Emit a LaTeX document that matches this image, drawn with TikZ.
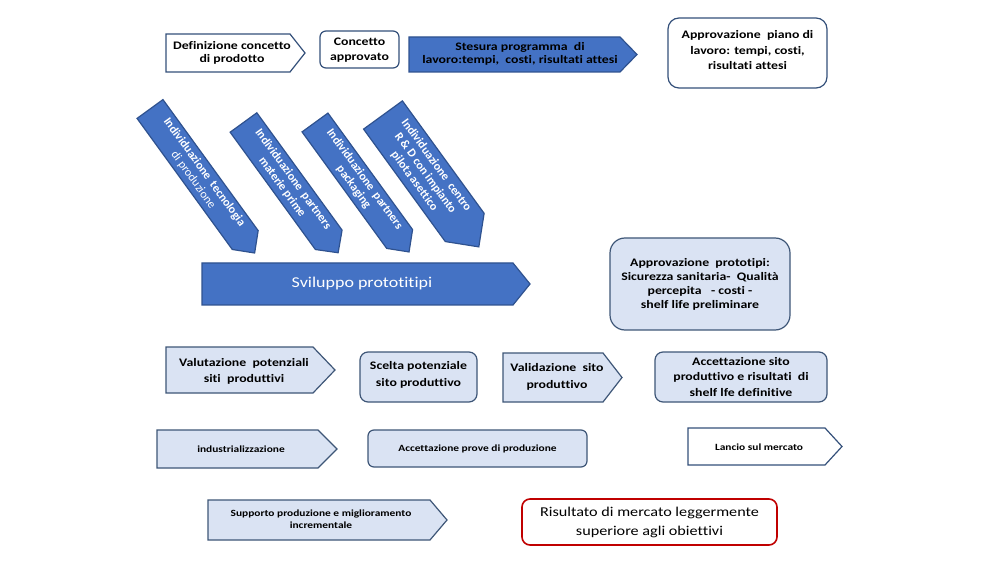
\documentclass[tikz,border=0pt]{standalone}
\usepackage{fontspec}
\setmainfont{Carlito}[Ligatures=NoCommon]
\definecolor{dblue}{HTML}{4472C4}
\definecolor{dbord}{HTML}{2F528F}
\definecolor{lblue}{HTML}{DAE3F3}
\definecolor{lbord}{HTML}{3E5677}
\definecolor{wbord}{HTML}{34507A}
\definecolor{rbord}{HTML}{C00000}
\begin{document}
\begin{tikzpicture}[x=1pt,y=-1pt,
  shp/.style={line width=1.2pt, line join=miter},
  fdark/.style={shp, fill=dblue, draw=dbord},
  flight/.style={shp, fill=lblue, draw=lbord},
  fwhite/.style={shp, fill=white, draw=wbord},
  fred/.style={shp, fill=white, draw=rbord, line width=1.6pt},
  lbl/.style={align=center, inner sep=0pt, xscale=1.2, font=\bfseries\fontsize{11.5}{#1}\selectfont},
  lbl/.default=13.5,
  slbl/.style={align=center, inner sep=0pt, xscale=1.2, font=\bfseries\fontsize{9.5}{12}\selectfont},
  dlbl/.style={align=center, inner sep=0pt, text=white, rotate=-54, font=\bfseries\fontsize{12}{13.5}\selectfont},
]
\useasboundingbox (0,0) rectangle (1004,561);

% ---- top row
\draw[fwhite] (166,34) -- (290,34) -- (305,53) -- (290,72) -- (166,72) -- cycle;
\node[lbl] (def) at (232,53) {Definizione concetto\\di prodotto};

\draw[fwhite, rounded corners=6pt] (320,31) rectangle (399,68);
\node[lbl=15] (conc) at (359.5,50.5) {Concetto\\approvato};

\draw[fdark] (409,37) -- (620,37) -- (637,54.5) -- (620,72) -- (409,72) -- cycle;
\node[lbl] (stes) at (520,54) {Stesura programma\ \ di\\lavoro:tempi,\ \ costi, risultati attesi};

\draw[fwhite, rounded corners=11pt] (668,18) rectangle (827,88);
\node[lbl=15.5] (appr) at (747.5,50.5) {Approvazione\ \ piano di\\lavoro: tempi, costi,\\risultati attesi};

% ---- diagonal arrows
\begin{scope}[shift={(150,109)}, rotate=-54]
  \draw[fdark] (0,-16) -- (162,-16) -- (178,0) -- (162,16) -- (0,16) -- cycle;
  \node[dlbl] (ind1) at (83,0) {Individuazione\ \ tecnologia\\{\mdseries di produzione}};
\end{scope}
\begin{scope}[shift={(243.5,122.5)}, rotate=-54]
  \draw[fdark] (0,-16.5) -- (145,-16.5) -- (161,0) -- (145,16.5) -- (0,16.5) -- cycle;
  \node[dlbl] (ind2) at (75,0) {Individuazione\ \ partners\\materie prime};
\end{scope}
\begin{scope}[shift={(315,122.5)}, rotate=-54]
  \draw[fdark] (0,-16) -- (144,-16) -- (160,0) -- (144,16) -- (0,16) -- cycle;
  \node[dlbl] (ind3) at (75,0) {Individuazione\ \ partners\\packaging};
\end{scope}
\begin{scope}[shift={(383,115)}, rotate=-54]
  \draw[fdark] (0,-24) -- (139,-24) -- (163,0) -- (139,24) -- (0,24) -- cycle;
  \node[dlbl] (ind4) at (72,0) {Individuazione\ \ centro\\R \& D con impianto\\pilota asettico};
\end{scope}

% ---- Sviluppo
\draw[fdark] (202,263) -- (513,263) -- (530,284) -- (513,305) -- (202,305) -- cycle;
\node[align=center, inner sep=0pt, xscale=1.2, text=white, font=\fontsize{15}{18}\selectfont] (svil) at (362,284) {Sviluppo prototitipi};

\draw[flight, rounded corners=15pt] (610,238) rectangle (790,330);
\node[lbl=14] (appro) at (700,284) {Approvazione\ \ prototipi:\\Sicurezza sanitaria-\ \ Qualità\\percepita\ \ \ - costi -\\shelf life preliminare};

% ---- middle row
\draw[flight] (166,347) -- (313,347) -- (335,370) -- (313,393) -- (166,393) -- cycle;
\node[lbl=16.5] (valu) at (244,371.5) {Valutazione\ \ potenziali\\siti\ \ produttivi};

\draw[flight, rounded corners=8pt] (360,352) rectangle (477,402);
\node[lbl=16.5] (scel) at (418.5,375) {Scelta potenziale\\sito produttivo};

\draw[flight] (503,353) -- (603,353) -- (622,377.5) -- (603,402) -- (503,402) -- cycle;
\node[lbl=16.5] (vali) at (557,376.7) {Validazione\ \ sito\\produttivo};

\draw[flight, rounded corners=8pt] (655,352) rectangle (827,402);
\node[lbl=15.5] (acce) at (741,377) {Accettazione sito\\produttivo e risultati\ \ di\\shelf lfe definitive};

% ---- lower row
\draw[flight] (157,430) -- (318,430) -- (337,449) -- (318,468) -- (157,468) -- cycle;
\node[slbl] (indu) at (241,449) {industrializzazione};

\draw[flight, rounded corners=6pt] (368,430) rectangle (587,467);
\node[slbl] (prov) at (477.5,448.5) {Accettazione prove di produzione};

\draw[fwhite] (688,428) -- (825,428) -- (842,446.5) -- (825,465) -- (688,465) -- cycle;
\node[slbl] (lanc) at (759,447) {Lancio sul mercato};

% ---- bottom row
\draw[flight] (208,500) -- (430,500) -- (447,520) -- (430,540) -- (208,540) -- cycle;
\node[slbl] (supp) at (321,519) {Supporto produzione e miglioramento\\incrementale};

\draw[fred, rounded corners=8pt] (522,499) rectangle (777,545);
\node[align=center, inner sep=0pt, xscale=1.2, font=\fontsize{13.5}{19}\selectfont] (risu) at (649.5,522) {Risultato di mercato leggermente\\superiore agli obiettivi};
\end{tikzpicture}
\end{document}
